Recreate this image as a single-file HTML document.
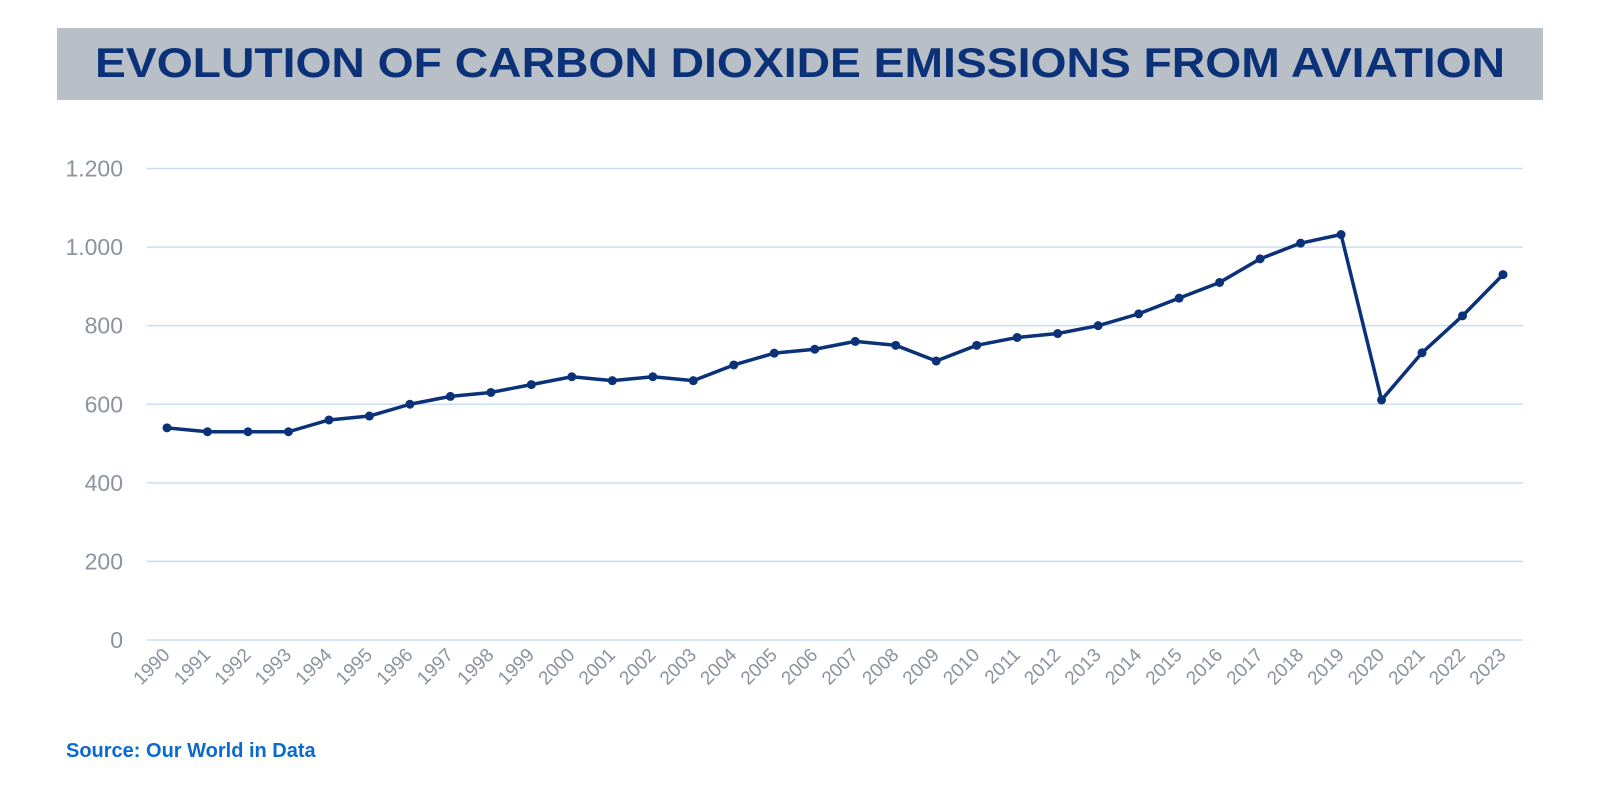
<!DOCTYPE html>
<html><head><meta charset="utf-8"><style>
html,body{margin:0;padding:0;background:#fff;}
svg{display:block;font-family:"Liberation Sans",sans-serif;}
</style></head><body>
<svg width="1600" height="800" viewBox="0 0 1600 800">
<rect x="57" y="28" width="1486" height="72" fill="#b8bfc6"/>
<text x="800" y="77" text-anchor="middle" font-size="42" font-weight="bold" fill="#0b3278" textLength="1410" lengthAdjust="spacingAndGlyphs">EVOLUTION OF CARBON DIOXIDE EMISSIONS FROM AVIATION</text>
<g id="grid"></g>
<g id="series"></g>
<text x="66" y="757" font-size="20" font-weight="bold" fill="#0a6ad0">Source: Our World in Data</text>
</svg>
<script>
const years = [1990,1991,1992,1993,1994,1995,1996,1997,1998,1999,2000,2001,2002,2003,2004,2005,2006,2007,2008,2009,2010,2011,2012,2013,2014,2015,2016,2017,2018,2019,2020,2021,2022,2023];
const emissions = [540,530,530,530,560,570,600,620,630,650,670,660,670,660,700,730,740,760,750,710,750,770,780,800,830,870,910,970,1010,1032,611,731,825,930];
const yTicks = [0,200,400,600,800,1000,1200];
const yTickLabels = ["0","200","400","600","800","1.000","1.200"];
const NS="http://www.w3.org/2000/svg";
const x0=167,x1=1503,yBase=640,yTop=168.5,yMax=1200;
function xs(i){return x0+(x1-x0)*i/(years.length-1);}
function ys(v){return yBase-(yBase-yTop)*v/yMax;}
const grid=document.getElementById('grid');
yTicks.forEach((t,i)=>{
  const l=document.createElementNS(NS,'line');
  l.setAttribute('x1',147);l.setAttribute('x2',1523);
  l.setAttribute('y1',ys(t));l.setAttribute('y2',ys(t));
  l.setAttribute('stroke','#c9ddf7');l.setAttribute('stroke-width','1.5');
  
  
  grid.appendChild(l);
  const tx=document.createElementNS(NS,'text');
  tx.setAttribute('x',123);tx.setAttribute('y',ys(t)+8);
  tx.setAttribute('text-anchor','end');tx.setAttribute('font-size','23');tx.setAttribute('fill','#8a939e');
  tx.textContent=yTickLabels[i];
  
  
  grid.appendChild(tx);
});
years.forEach((y,i)=>{
  const tx=document.createElementNS(NS,'text');
  const ax=xs(i)+4,ay=656;
  tx.setAttribute('x',ax);tx.setAttribute('y',ay);
  tx.setAttribute('text-anchor','end');tx.setAttribute('font-size','19');tx.setAttribute('fill','#8a939e');
  tx.setAttribute('transform','rotate(-45 '+ax+' '+ay+')');
  tx.textContent=y;
  
  
  grid.appendChild(tx);
});
const g=document.getElementById('series');
const p=document.createElementNS(NS,'polyline');
p.setAttribute('points',emissions.map((v,i)=>xs(i)+','+ys(v)).join(' '));
p.setAttribute('fill','none');p.setAttribute('stroke','#0b3278');p.setAttribute('stroke-width','3.5');p.setAttribute('stroke-linejoin','round');


g.appendChild(p);
emissions.forEach((v,i)=>{
  const c=document.createElementNS(NS,'circle');
  c.setAttribute('cx',xs(i));c.setAttribute('cy',ys(v));c.setAttribute('r','4.5');c.setAttribute('fill','#0b3278');
  
  
  g.appendChild(c);
});
</script>
</body></html>
